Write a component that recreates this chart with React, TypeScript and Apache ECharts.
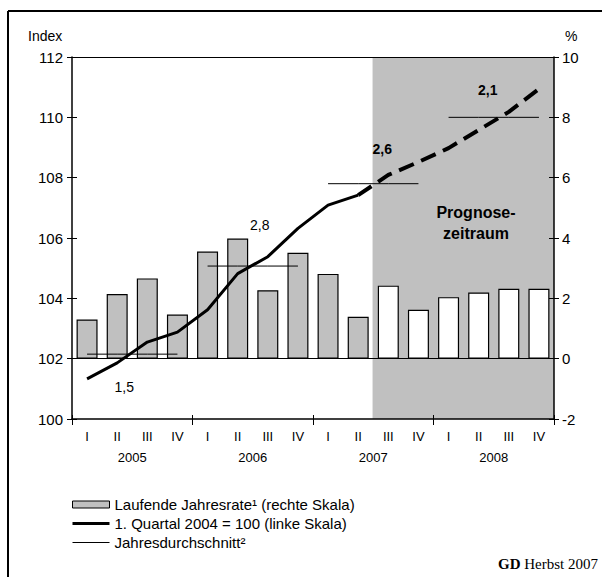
import React, { useEffect, useRef } from 'react';
import * as echarts from 'echarts';

// ---- data ----
const quarters = ['I', 'II', 'III', 'IV', 'I', 'II', 'III', 'IV', 'I', 'II', 'III', 'IV', 'I', 'II', 'III', 'IV'];
const years = ['2005', '2006', '2007', '2008'];
// laufende Jahresrate in % (right scale)
const annualRate = [1.3, 2.14, 2.66, 1.46, 3.55, 3.98, 2.27, 3.51, 2.81, 1.39, 2.42, 1.62, 2.04, 2.19, 2.32, 2.32];
// index, 1. Quartal 2004 = 100 (left scale)
const indexValues = [101.33, 101.86, 102.55, 102.88, 103.62, 104.82, 105.38, 106.32, 107.09, 107.42, 108.09, 108.52, 108.98, 109.58, 110.18, 110.94];
// annual averages of the index (left scale)
const annualAverage = [102.15, 105.07, 107.8, 110.0];
// average annual growth labels
const annualGrowth = ['1,5', '2,8', '2,6', '2,1'];
const forecastStart = 10; // first forecast quarter (III 2007)

// ---- styling (positions of annotation labels) ----
const growthLabelStyle = [
  { q: 1, offset: [7, 33], bold: false },
  { q: 1, offset: [22, -41], bold: false },
  { q: 2, offset: [-6, -35], bold: true },
  { q: 1, offset: [9, -27], bold: true },
];

const FONT = '"Liberation Sans", Arial, sans-serif';
const SERIF = '"Liberation Serif", "Times New Roman", serif';
const NAME_RATE = 'Laufende Jahresrate¹ (rechte Skala)';
const NAME_INDEX = '1. Quartal 2004 = 100 (linke Skala)';
const NAME_AVG = 'Jahresdurchschnitt²';

export default function App() {
  const ref = useRef<HTMLDivElement>(null);
  useEffect(() => {
    document.body.style.margin = '0';
    const chart = echarts.init(ref.current!, null, { renderer: 'svg' });

    const avgSeries = years.map((_, y) => {
      const ls = growthLabelStyle[y];
      return {
        name: NAME_AVG,
        type: 'line',
        xAxisIndex: 0,
        yAxisIndex: 0,
        symbol: 'circle',
        symbolSize: 0,
        showSymbol: true,
        z: 6,
        silent: true,
        itemStyle: { color: '#000' },
        lineStyle: { color: '#000', width: 1 },
        data: quarters.map((_, i) => {
          if (Math.floor(i / 4) !== y) return '-';
          if (i % 4 === ls.q) {
            return {
              value: annualAverage[y],
              label: {
                show: true,
                position: 'inside',
                formatter: annualGrowth[y],
                offset: ls.offset,
                fontSize: 14,
                fontWeight: ls.bold ? 'bold' : 'normal',
                fontFamily: FONT,
                color: '#000',
              },
            };
          }
          return annualAverage[y];
        }),
      };
    });

    const yLabel = { fontSize: 15, color: '#000', fontFamily: FONT };

    const option: any = {
      animation: false,
      textStyle: { fontFamily: FONT, color: '#000' },
      grid: { left: 72, right: 48, top: 57, bottom: 158 },
      legend: {
        orient: 'vertical',
        left: 72,
        top: 497,
        padding: 0,
        itemWidth: 37,
        itemHeight: 7,
        itemGap: 4,
        selectedMode: false,
        textStyle: { fontSize: 15, color: '#000', fontFamily: FONT },
        data: [
          { name: NAME_RATE, icon: 'rect', itemStyle: { color: '#c0c0c0', borderColor: '#000', borderWidth: 1 } },
          { name: NAME_INDEX, icon: 'path://M0,0M0,7M0,2L37,2L37,5L0,5Z', itemStyle: { color: '#000', borderWidth: 0 } },
          { name: NAME_AVG, icon: 'path://M0,0M0,7M0,3L37,3L37,4L0,4Z', itemStyle: { color: '#000', borderWidth: 0 } },
        ],
      },
      xAxis: [
        {
          type: 'category',
          data: quarters,
          position: 'bottom',
          boundaryGap: true,
          z: 5,
          axisLine: { onZero: false, lineStyle: { color: '#000', width: 1.5 } },
          axisTick: { show: true, interval: (i: number) => i % 4 === 0, length: 6, lineStyle: { color: '#000', width: 1 } },
          axisLabel: { interval: 0, margin: 11, fontSize: 13, color: '#000', fontFamily: FONT },
          splitLine: { show: false },
        },
        {
          type: 'category',
          data: years,
          position: 'bottom',
          boundaryGap: true,
          z: 5,
          axisLine: { show: false, onZero: false },
          axisTick: { show: true, inside: true, length: 4, lineStyle: { color: '#000', width: 1 } },
          axisLabel: { interval: 0, margin: 32, fontSize: 13, color: '#000', fontFamily: FONT },
          splitLine: { show: false },
        },
        {
          type: 'category',
          data: quarters,
          position: 'top',
          boundaryGap: true,
          z: 5,
          axisLine: { show: true, onZero: false, lineStyle: { color: '#000', width: 1 } },
          axisTick: { show: false },
          axisLabel: { show: false },
          splitLine: { show: false },
        },
      ],
      yAxis: [
        {
          type: 'value', position: 'left', min: 100, max: 112, interval: 2, z: 5,
          axisLine: { show: true, onZero: false, lineStyle: { color: '#000', width: 1.5 } },
          axisTick: { show: true, length: 5, lineStyle: { color: '#000' } },
          axisLabel: { margin: 9, ...yLabel },
          splitLine: { show: false },
        },
        {
          type: 'value', position: 'right', min: -2, max: 10, interval: 2, z: 5,
          axisLine: { show: true, onZero: false, lineStyle: { color: '#000', width: 1.5 } },
          axisTick: { show: true, length: 5, lineStyle: { color: '#000' } },
          axisLabel: { margin: 8, ...yLabel },
          splitLine: { show: false },
        },
        {
          type: 'value', position: 'left', min: 100, max: 112, interval: 2, z: 5,
          axisLine: { show: false, onZero: false },
          axisTick: { show: true, inside: true, length: 5, lineStyle: { color: '#000' } },
          axisLabel: { show: false },
          splitLine: { show: false },
        },
        {
          type: 'value', position: 'right', min: -2, max: 10, interval: 2, z: 5,
          axisLine: { show: false, onZero: false },
          axisTick: { show: true, inside: true, length: 5, lineStyle: { color: '#000' } },
          axisLabel: { show: false },
          splitLine: { show: false },
        },
        { type: 'value', min: 0, max: 1, show: false },
      ],
      series: [
        {
          name: 'Prognosezeitraum',
          type: 'bar',
          xAxisIndex: 2,
          yAxisIndex: 4,
          barWidth: 31.5,
          silent: true,
          z: 1,
          itemStyle: { color: '#c0c0c0' },
          data: quarters.map((_, i) => (i >= forecastStart ? 1 : '-')),
        },
        {
          name: NAME_RATE,
          type: 'bar',
          xAxisIndex: 0,
          yAxisIndex: 1,
          barWidth: 21,
          z: 3,
          silent: true,
          itemStyle: { color: '#c0c0c0', borderColor: '#000', borderWidth: 1.2 },
          data: annualRate.map((v, i) => ({
            value: v,
            itemStyle: { color: i >= forecastStart ? '#ffffff' : '#c0c0c0', borderColor: '#000', borderWidth: 1.2 },
          })),
          markLine: {
            silent: true,
            symbol: 'none',
            label: { show: false },
            lineStyle: { color: '#000', width: 1, type: 'solid' },
            data: [{ yAxis: 0 }],
          },
        },
        {
          name: NAME_INDEX,
          type: 'line',
          xAxisIndex: 0,
          yAxisIndex: 0,
          symbol: 'none',
          z: 7,
          silent: true,
          itemStyle: { color: '#000' },
          lineStyle: { color: '#000', width: 3 },
          data: indexValues.map((v, i) => (i < forecastStart ? v : '-')),
        },
        {
          name: 'Prognose Index',
          type: 'line',
          xAxisIndex: 0,
          yAxisIndex: 0,
          symbol: 'none',
          z: 7,
          silent: true,
          itemStyle: { color: '#000' },
          lineStyle: { color: '#000', width: 4, type: [16, 8], cap: 'butt' },
          data: indexValues.map((v, i) => (i >= forecastStart - 1 ? v : '-')),
        },
        ...avgSeries,
      ],
      graphic: [
        { type: 'line', silent: true, shape: { x1: 8, y1: 11, x2: 602, y2: 11 }, style: { stroke: '#000', lineWidth: 2 } },
        { type: 'line', silent: true, shape: { x1: 8, y1: 11, x2: 8, y2: 577 }, style: { stroke: '#000', lineWidth: 2 } },
        { type: 'text', x: 28, y: 29, style: { text: 'Index', fontSize: 14, fontFamily: FONT, fill: '#000' } },
        { type: 'text', x: 565, y: 29, style: { text: '%', fontSize: 14, fontFamily: FONT, fill: '#000' } },
        {
          type: 'text', x: 476, y: 202, z: 10,
          style: { text: 'Prognose-\nzeitraum', textAlign: 'center', fontSize: 16, fontWeight: 'bold', lineHeight: 21, fontFamily: FONT, fill: '#000' },
        },
        {
          type: 'text', x: 598, y: 556, z: 10,
          style: {
            text: '{b|GD} Herbst 2007',
            textAlign: 'right',
            fontSize: 15,
            fontFamily: SERIF,
            fill: '#000',
            rich: { b: { fontWeight: 'bold', fontSize: 15, fontFamily: SERIF } },
          },
        },
      ],
    };
    chart.setOption(option);
    return () => chart.dispose();
  }, []);
  return <div ref={ref} style={{ width: 602, height: 577 }} />;
}
